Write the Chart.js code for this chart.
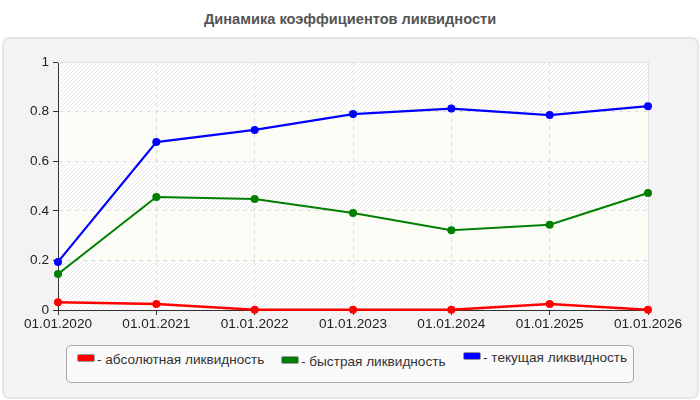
<!DOCTYPE html>
<html><head><meta charset="utf-8">
<script src="https://cdn.jsdelivr.net/npm/chart.js@4/dist/chart.umd.min.js"></script>
<style>
html,body{margin:0;padding:0;background:#fff;width:700px;height:400px;overflow:hidden;font-family:"Liberation Sans",Arial,sans-serif;}
#title{position:absolute;left:0;top:11px;width:700px;text-align:center;font-weight:bold;font-size:14.6px;color:#555;}
#panel{position:absolute;left:2px;top:37px;width:693px;height:358px;background:#f3f3f3;border:2px solid #e6e6e6;border-radius:7px;}
#wrap{position:absolute;left:0;top:0;width:700px;height:400px;}
#legend{position:absolute;left:66px;top:345px;width:566px;height:36px;background:#fafafa;border:1px solid #aaa;border-radius:5px;font-size:13.6px;color:#333;}
.it{position:absolute;white-space:nowrap;line-height:16px;}
.sw{display:inline-block;width:16px;height:6px;border:1px solid #999;border-radius:2px;margin-right:2px;vertical-align:middle;position:relative;top:-2px;}
</style></head>
<body>
<div id="title">Динамика коэффициентов ликвидности</div>
<div id="panel"></div>
<div id="wrap"><canvas id="c" width="700" height="400"></canvas></div>
<div id="legend"></div>
<script>
const categories = ["01.01.2020","01.01.2021","01.01.2022","01.01.2023","01.01.2024","01.01.2025","01.01.2026"];
const seriesNames = ["- абсолютная ликвидность","- быстрая ликвидность","- текущая ликвидность"];
const absoluteLiq = [0.031,0.024,0.001,0.001,0.001,0.024,0.001];
const quickLiq = [0.145,0.456,0.448,0.391,0.322,0.344,0.472];
const currentLiq = [0.194,0.677,0.726,0.79,0.812,0.786,0.822];
const seriesColors = ["#ff0000","#008000","#0000ff"];
const yTicks = [0,0.2,0.4,0.6,0.8,1];

// legend (HTML)
const legPos = [{l:10,t:6},{l:214,t:8},{l:396,t:4}];
const leg = document.getElementById('legend');
seriesNames.forEach((n,i)=>{
  const d=document.createElement('div');d.className='it';d.style.left=legPos[i].l+'px';d.style.top=legPos[i].t+'px';
  const s=document.createElement('span');s.className='sw';s.style.background=seriesColors[i];
  d.appendChild(s);d.appendChild(document.createTextNode(n));leg.appendChild(d);
});

function hatch(ctx){
  const p=document.createElement('canvas');p.width=4;p.height=4;
  const g=p.getContext('2d');g.fillStyle='#ffffff';g.fillRect(0,0,4,4);
  g.fillStyle='#e9e9e9';
  for(let i=0;i<4;i++){g.fillRect(3-i,i,1,1);}
  return ctx.createPattern(p,'repeat');
}
const bgPlugin={id:'bg',beforeDraw(chart){
  const {ctx,chartArea:a,scales:{y}}=chart;
  ctx.save();
  ctx.fillStyle=hatch(ctx);ctx.fillRect(a.left,a.top,a.right-a.left,a.bottom-a.top);
  ctx.fillStyle='#fdfdf8';
  [[0.2,0.4],[0.6,0.8]].forEach(([lo,hi])=>{const t=y.getPixelForValue(hi),b=y.getPixelForValue(lo);ctx.fillRect(a.left,t,a.right-a.left,b-t);});
  ctx.restore();
},
beforeDatasetsDraw(chart){
  const {ctx,chartArea:a}=chart;
  ctx.save();ctx.strokeStyle='#e0e0e0';ctx.lineWidth=1;ctx.setLineDash([]);
  ctx.beginPath();ctx.moveTo(a.left,a.top+0.5);ctx.lineTo(a.right+0.5,a.top+0.5);ctx.lineTo(a.right+0.5,a.bottom);ctx.stroke();
  ctx.restore();
}};

const data={labels:categories,datasets:[
  {label:seriesNames[0],data:absoluteLiq,borderColor:seriesColors[0],backgroundColor:seriesColors[0],borderWidth:2.5},
  {label:seriesNames[1],data:quickLiq,borderColor:seriesColors[1],backgroundColor:seriesColors[1],borderWidth:2},
  {label:seriesNames[2],data:currentLiq,borderColor:seriesColors[2],backgroundColor:seriesColors[2],borderWidth:2.2}
].map(d=>Object.assign(d,{pointRadius:4,pointHoverRadius:4,pointBorderWidth:0,tension:0,clip:false}))};

const tickFont={family:'"Liberation Sans", Arial',size:13.6};
new Chart(document.getElementById('c'),{type:'line',data,plugins:[bgPlugin],options:{
  responsive:false,animation:false,
  layout:{padding:{left:0,right:52,top:62,bottom:70}},
  plugins:{legend:{display:false},title:{display:false},tooltip:{enabled:false}},
  scales:{
    x:{offset:false,
      grid:{color:'#dddddd',tickLength:5,tickColor:'#333'},
      border:{color:'#333',width:1,dash:[4,4]},
      ticks:{color:'#222',font:tickFont,padding:1,maxRotation:0,autoSkip:false},
      afterFit(s){s.height=20;}
    },
    y:{min:0,max:1,
      afterBuildTicks(s){s.ticks=yTicks.map(v=>({value:v}));},
      grid:{color:'#dddddd',tickLength:5,tickColor:'#333'},
      border:{color:'#333',width:1,dash:[4,4]},
      ticks:{color:'#222',font:tickFont,padding:4,callback:v=>String(v)},
      afterFit(s){s.width=58;}
    }
  }
}});
</script>
</body></html>
